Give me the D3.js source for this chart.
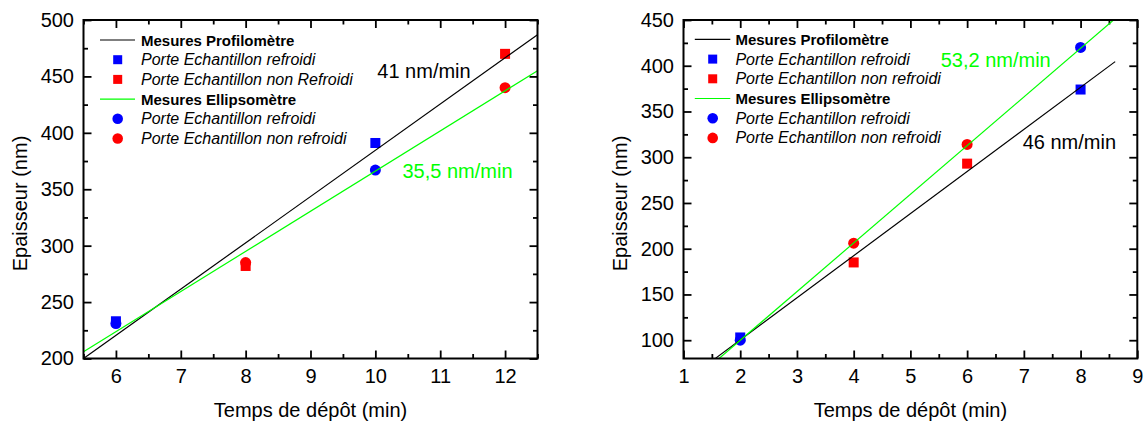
<!DOCTYPE html>
<html>
<head>
<meta charset="utf-8">
<script src="https://cdn.jsdelivr.net/npm/d3@7"></script>
<style>
  html, body { margin: 0; padding: 0; background: #fff; }
  svg { display: block; font-family: "Liberation Sans", Arial, sans-serif; }
</style>
</head>
<body>
<svg id="chart" width="1144" height="424"></svg>
<script>
// ---------- DATA ----------
// Left panel
const timesLeft = [6, 8, 10, 12];
const profilLeft = [233, 282, 391, 470];      // squares (Profilomètre)
const ellipsoLeft = [231, 285, 367, 440];     // circles (Ellipsomètre)
const coolingLeft = ["refroidi", "non refroidi", "refroidi", "non refroidi"];
const fitXLeft = [5.5, 12.5];
const fitProfilLeft = [200, 487];
const fitEllipsoLeft = [206, 455];
const xTicksLeft = [6, 7, 8, 9, 10, 11, 12];
const xMinorLeft = [5.5, 6.5, 7.5, 8.5, 9.5, 10.5, 11.5, 12.5];
const yTicksLeft = [200, 250, 300, 350, 400, 450, 500];
const yMinorLeft = [225, 275, 325, 375, 425, 475];
const legendLeft = ["Mesures Profilomètre", "Porte Echantillon refroidi", "Porte Echantillon non Refroidi",
                    "Mesures Ellipsomètre", "Porte Echantillon refroidi", "Porte Echantillon non refroidi"];
const rateProfilLeft = "41 nm/min";
const rateEllipsoLeft = "35,5 nm/min";

// Right panel
const timesRight = [2, 4, 6, 8];
const profilRight = [103, 185, 293, 374];
const ellipsoRight = [100, 206, 314, 420];
const coolingRight = ["refroidi", "non refroidi", "non refroidi", "refroidi"];
const fitXProfilRight = [1.55, 8.61];
const fitProfilRight = [79.6, 404.5];
const fitXEllipsoRight = [1.6, 8.6];
const fitEllipsoRight = [78.6, 451];
const xTicksRight = [1, 2, 3, 4, 5, 6, 7, 8, 9];
const xMinorRight = [1.5, 2.5, 3.5, 4.5, 5.5, 6.5, 7.5, 8.5];
const yTicksRight = [100, 150, 200, 250, 300, 350, 400, 450];
const yMinorRight = [125, 175, 225, 275, 325, 375, 425];
const legendRight = ["Mesures Profilomètre", "Porte Echantillon refroidi", "Porte Echantillon non refroidi",
                     "Mesures Ellipsomètre", "Porte Echantillon refroidi", "Porte Echantillon non refroidi"];
const rateProfilRight = "46 nm/min";
const rateEllipsoRight = "53,2 nm/min";

const xTitle = "Temps de dépôt (min)";
const yTitle = "Epaisseur (nm)";

// ---------- DRAW ----------
const svg = d3.select("#chart");
svg.append("rect").attr("width", 1144).attr("height", 424).attr("fill", "#fff");

const BLUE = "#0000ff", RED = "#ff0000", GREEN = "#00ff00", BLACK = "#000";
const colorOf = c => c === "refroidi" ? BLUE : RED;

function panel(cfg, id) {
  const x = d3.scaleLinear().domain(cfg.xDomain).range([cfg.left, cfg.right]);
  const y = d3.scaleLinear().domain(cfg.yDomain).range([cfg.bottom, cfg.top]);
  const g = svg.append("g");

  g.append("clipPath").attr("id", "clip" + id)
    .append("rect").attr("x", cfg.left).attr("y", cfg.top)
    .attr("width", cfg.right - cfg.left).attr("height", cfg.bottom - cfg.top);

  function styleAxis(sel, labels) {
    sel.select(".domain").remove();
    sel.selectAll(".tick line").attr("stroke", BLACK).attr("stroke-width", 1.8);
    sel.selectAll("text").attr("font-size", 20).attr("fill", BLACK)
      .attr("font-family", "Liberation Sans, Arial, sans-serif");
    if (!labels) sel.selectAll("text").remove();
  }
  // bottom
  g.append("g").attr("transform", `translate(0,${cfg.bottom})`)
    .call(d3.axisBottom(x).tickValues(cfg.xTicks).tickSize(-8).tickPadding(10.5).tickFormat(d3.format("d")))
    .call(s => styleAxis(s, true));
  g.append("g").attr("transform", `translate(0,${cfg.bottom})`)
    .call(d3.axisBottom(x).tickValues(cfg.xMinor).tickSize(-4.5).tickFormat(""))
    .call(s => styleAxis(s, false));
  // top
  g.append("g").attr("transform", `translate(0,${cfg.top})`)
    .call(d3.axisTop(x).tickValues(cfg.xTicks).tickSize(-8).tickFormat(""))
    .call(s => styleAxis(s, false));
  g.append("g").attr("transform", `translate(0,${cfg.top})`)
    .call(d3.axisTop(x).tickValues(cfg.xMinor).tickSize(-4.5).tickFormat(""))
    .call(s => styleAxis(s, false));
  // left
  g.append("g").attr("transform", `translate(${cfg.left},0)`)
    .call(d3.axisLeft(y).tickValues(cfg.yTicks).tickSize(-8).tickPadding(9.5).tickFormat(d3.format("d")))
    .call(s => styleAxis(s, true));
  g.append("g").attr("transform", `translate(${cfg.left},0)`)
    .call(d3.axisLeft(y).tickValues(cfg.yMinor).tickSize(-4.5).tickFormat(""))
    .call(s => styleAxis(s, false));
  // right
  g.append("g").attr("transform", `translate(${cfg.right},0)`)
    .call(d3.axisRight(y).tickValues(cfg.yTicks).tickSize(-8).tickFormat(""))
    .call(s => styleAxis(s, false));
  g.append("g").attr("transform", `translate(${cfg.right},0)`)
    .call(d3.axisRight(y).tickValues(cfg.yMinor).tickSize(-4.5).tickFormat(""))
    .call(s => styleAxis(s, false));

  // markers: squares then circles
  const pts = g.append("g").attr("clip-path", `url(#clip${id})`);
  const sq = 10;
  pts.selectAll("rect.sq").data(cfg.times).join("rect").attr("class", "sq")
    .attr("x", (d, i) => x(d) - sq / 2).attr("y", (d, i) => y(cfg.profil[i]) - sq / 2)
    .attr("width", sq).attr("height", sq)
    .attr("fill", (d, i) => colorOf(cfg.cooling[i]));
  pts.selectAll("circle.ci").data(cfg.times).join("circle").attr("class", "ci")
    .attr("cx", d => x(d)).attr("cy", (d, i) => y(cfg.ellipso[i])).attr("r", 5.5)
    .attr("fill", (d, i) => colorOf(cfg.cooling[i]));

  // fit lines
  const line = d3.line().x(d => x(d[0])).y(d => y(d[1]));
  const lines = g.append("g").attr("clip-path", `url(#clip${id})`);
  lines.append("path").datum(cfg.fitXP.map((v, i) => [v, cfg.fitP[i]]))
    .attr("d", line).attr("stroke", BLACK).attr("stroke-width", 1.2).attr("fill", "none");
  lines.append("path").datum(cfg.fitXE.map((v, i) => [v, cfg.fitE[i]]))
    .attr("d", line).attr("stroke", GREEN).attr("stroke-width", 1.2).attr("fill", "none");

  // frame
  g.append("rect").attr("x", cfg.left).attr("y", cfg.top)
    .attr("width", cfg.right - cfg.left).attr("height", cfg.bottom - cfg.top)
    .attr("fill", "none").attr("stroke", BLACK).attr("stroke-width", 2);

  // legend
  const lg = g.append("g");
  const rowY = i => cfg.legTop + i * 19.7;
  const kinds = ["line", "sq", "sq", "line", "ci", "ci"];
  const kcol = [BLACK, BLUE, RED, GREEN, BLUE, RED];
  cfg.legend.forEach((lab, i) => {
    const yy = rowY(i);
    if (kinds[i] === "line") {
      lg.append("line").attr("x1", cfg.legLine0).attr("x2", cfg.legLine1)
        .attr("y1", yy).attr("y2", yy).attr("stroke", kcol[i]).attr("stroke-width", 1.2);
    } else if (kinds[i] === "sq") {
      lg.append("rect").attr("x", cfg.legMark - 4.5).attr("y", yy - 4.5)
        .attr("width", 9).attr("height", 9).attr("fill", kcol[i]);
    } else {
      lg.append("circle").attr("cx", cfg.legMark).attr("cy", yy).attr("r", 5.3).attr("fill", kcol[i]);
    }
    const bold = kinds[i] === "line";
    lg.append("text").attr("x", cfg.legText).attr("y", yy + 5.5)
      .attr("font-size", bold ? 15 : 16)
      .attr("font-weight", bold ? "bold" : "normal")
      .attr("font-style", bold ? "normal" : "italic")
      .attr("fill", BLACK).text(lab);
  });

  // rate annotations
  g.append("text").attr("x", cfg.rateP[0]).attr("y", cfg.rateP[1]).attr("font-size", 20)
    .attr("fill", BLACK).text(cfg.rateProfil);
  g.append("text").attr("x", cfg.rateE[0]).attr("y", cfg.rateE[1]).attr("font-size", 20)
    .attr("fill", GREEN).text(cfg.rateEllipso);

  // axis titles
  g.append("text").attr("x", (cfg.left + cfg.right) / 2).attr("y", 417)
    .attr("text-anchor", "middle").attr("font-size", 20).attr("fill", BLACK).text(xTitle);
  g.append("text").attr("transform", `translate(${cfg.yTitleX},203.5) rotate(-90)`)
    .attr("text-anchor", "middle").attr("font-size", 20).attr("fill", BLACK).text(yTitle);
}

panel({
  left: 83.5, right: 537.5, top: 20, bottom: 358.5,
  xDomain: [5.5, 12.5], yDomain: [200, 500],
  xTicks: xTicksLeft, xMinor: xMinorLeft, yTicks: yTicksLeft, yMinor: yMinorLeft,
  times: timesLeft, profil: profilLeft, ellipso: ellipsoLeft, cooling: coolingLeft,
  fitXP: fitXLeft, fitP: fitProfilLeft, fitXE: fitXLeft, fitE: fitEllipsoLeft,
  legend: legendLeft, legTop: 40, legLine0: 100, legLine1: 135, legMark: 117.7, legText: 141,
  rateProfil: rateProfilLeft, rateEllipso: rateEllipsoLeft,
  rateP: [377.3, 78.3], rateE: [402.5, 177.7], yTitleX: 27
}, "L");

panel({
  left: 683.5, right: 1137.3, top: 20, bottom: 358.5,
  xDomain: [1, 9], yDomain: [80, 450],
  xTicks: xTicksRight, xMinor: xMinorRight, yTicks: yTicksRight, yMinor: yMinorRight,
  times: timesRight, profil: profilRight, ellipso: ellipsoRight, cooling: coolingRight,
  fitXP: fitXProfilRight, fitP: fitProfilRight, fitXE: fitXEllipsoRight, fitE: fitEllipsoRight,
  legend: legendRight, legTop: 39.4, legLine0: 694.8, legLine1: 730.3, legMark: 712.7, legText: 735.4,
  rateProfil: rateProfilRight, rateEllipso: rateEllipsoRight,
  rateP: [1022.7, 149.3], rateE: [940.7, 66.7], yTitleX: 627
}, "R");
</script>
</body>
</html>
